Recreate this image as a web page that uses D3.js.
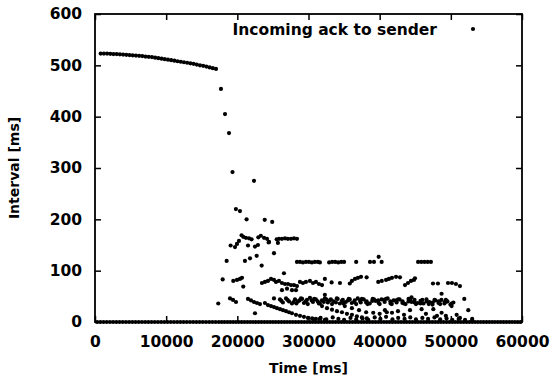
<!DOCTYPE html>
<meta charset="utf-8">
<html>
<head>
  <title>Incoming ack to sender</title>
  <style>
    body { margin: 0; background: #fff; }
    svg { display: block; }
    .tick text { font-family: "DejaVu Sans", sans-serif; font-weight: bold; font-size: 15.5px; fill: #000; }
    .label { font-family: "DejaVu Sans", sans-serif; font-weight: bold; font-size: 14px; fill: #000; }
  </style>
</head>
<body>
<svg id="chart" width="553" height="381"></svg>

<script src="https://d3js.org/d3.v7.min.js"></script>
<script>

const seriesName = "Incoming ack to sender";
const xTicks = [0, 10000, 20000, 30000, 40000, 50000, 60000];
const yTicks = [0, 100, 200, 300, 400, 500, 600];

// slow phase, one ack every ~0.5 s
const initialAcks = [
  [800,523],[1250,523],[1700,523],[2150,522.5],[2600,522],[3050,522],[3500,521.5],[3950,521],
  [4400,520.5],[4850,520],[5300,519.5],[5750,519],[6200,518.5],[6650,518],[7100,517],[7550,516.5],
  [8000,516],[8450,515],[8900,514],[9350,513],[9800,512],[10250,511],[10700,510],[11150,509],
  [11600,508],[12050,507],[12500,506],[12950,505],[13400,504],[13850,503],[14300,501.5],[14750,500],
  [15200,499],[15650,497.5],[16100,496],[16550,494.5],[17000,493]
];

// acks with ~0 interval
const zeroTimes = [
  300,750,1200,1650,2100,2550,3000,3450,3900,4350,4800,5250,5700,6150,6600,7050,7500,7950,8400,8850,
  9300,9750,10200,10650,11100,11550,12000,12450,12900,13350,13800,14250,14700,15150,15600,16050,16500,16950,
  17400,17800,18200,18600,19000,19400,19800,20200,20600,21000,21400,21800,22200,22600,23000,23400,23800,24200,
  24600,25000,25400,25800,26200,26600,27000,27400,27800,28200,28600,29000,29400,29800,30200,30600,31000,31400,
  31800,32200,32600,33000,33400,33800,34200,34600,35000,35400,35800,36200,36600,37000,37400,37800,38200,38600,
  39000,39400,39800,40200,40600,41000,41400,41800,42200,42600,43000,43400,43800,44200,44600,45000,45400,45800,
  46200,46600,47000,47400,47800,48200,48600,49000,49400,49800,50200,50600,51000,51400,51800,52200,52600,53000,
  53400,53800,54200,54600,55000,55400,55800,56200,56600,57000,57400,57800,58200,58600,59000,59400,59800
];

// burst after the slow phase
const burstAcks = [
  [17700,454],[18270,405],[18830,368],[19320,292],[22340,275],
  [19800,220],[20370,216],[21300,200],[23850,199],[24900,195],
  [20600,169],[20830,166],[21200,164],[21640,163],[22000,161],
  [22950,165],[23300,168],[23750,164],[24170,162],[24450,156],
  [25530,161],[25700,154],[25850,162],[26270,162],[26700,163],[27100,162],[27540,162],[27960,163],[28380,162],
  [19060,149],[19670,146],[19950,152],[20230,158],
  [21500,149],[22480,147],[22900,150],[24400,155],
  [25150,134],[18500,119],[21070,119],[21780,124],[22720,129],[23420,110],
  [17320,36],[18970,46],[19390,43],[19810,39],[21500,45],[21920,42],[22340,39],[22760,37],[23180,35],
  [22480,17],[25150,46]
];

const band117 = [
  [28380,117],[28800,117],[29220,116],[29640,117],[30060,117],[30480,116],[30900,117],[31320,117],[31600,116],
  [32900,116],[33330,117],[33750,117],[34170,116],[34600,117],[35000,117],
  [36700,117],[38640,117],[39200,117],[39860,127],[40280,117],
  [45400,117],[45850,117],[46300,117],[46750,117],[47200,117]
];

const band78 = [
  [17940,83],[19430,80],[19950,82],[20370,84],[20650,86],[20830,69],
  [23460,76],[23880,78],[24300,80],[24730,84],[25150,82],[25430,78],[25850,80],[26270,76],[26700,74],
  [27120,74],[27540,72],[27960,72],[28380,70],[28800,78],[29220,76],[29640,78],[30200,80],[30630,76],
  [31050,78],[31470,74],[31900,72],[32300,84],[33250,77],[34420,76],[35800,75],[36100,80],[36530,84],
  [36950,86],[37380,88],[38170,87],[39800,78],[40300,80],[40900,82],[41300,84],[41730,86],[42300,88],
  [42850,87],[43560,72],[43980,76],[44400,80],[44820,82],[44960,85],[47490,75],[48190,75],
  [49600,76],[50160,76],[50720,74],[51280,70],
  [26550,95],[26270,62],[26980,65],[27680,62],[28240,62]
];

const band40 = [
  [25990,44],[26400,38],[26840,46],[27260,40],[27680,36],[28100,44],[28520,40],[28940,46],[29360,37],
  [29780,43],[30200,47],[30620,39],[31040,44],[31460,36],[31880,42],[32300,46],[32720,38],[33140,44],
  [33560,40],[33980,46],[34400,36],[34820,43],[35240,39],[35660,45],[36080,37],[36500,42],[36920,46],
  [37340,38],[37760,44],[38180,40],[38600,36],[39020,45],[39440,41],[39860,37],[40280,44],[40700,39],
  [41120,46],[41540,36],[41960,42],[42380,38],[42800,44],[43220,40],[43640,35],[44060,45],[44480,39],
  [44900,43],[45320,37],[45740,41],[46160,36],[46580,44],[47000,39],[47420,34],[47840,42],[48260,37],
  [48680,43],[49100,36],[49520,40],[49940,34],[50360,38],
  [26200,41],[27050,43],[27900,39],[28750,42],[29600,40],[30450,42],[31300,40],[32150,39],[33000,42],
  [33850,38],[34700,41],[35550,42],[36400,39],[37250,41],[38100,38],[38950,41],[39800,42],[40650,43],
  [41500,40],[42350,42],[43200,37],[44050,40],[44900,38],[45750,36],[46600,40],[47450,38],[48300,40],
  [49150,39],
  [28300,36],[29100,45],[29900,35],[30800,45],[31600,36],[32500,44],[33300,35],[34100,45],[34900,36],
  [35800,44],[36700,35],[37500,45],[38300,35],[39200,44],[40000,35],[40900,45],[41700,35],[42600,44],
  [43400,36],[44300,43],[45100,35],[46000,43],[46900,35],[47700,43],[48500,35],[49300,43],[50100,36],
  [32300,53],[44470,48],[48700,55],[49400,40],[51890,45]
];

const lowBand = [
  [23880,37],[24300,33],[24730,31],[25150,29],[25570,27],[26000,25],[26410,23],[26840,21],[27260,19],
  [27680,17],[28240,14],[28800,12],[29360,10],[29920,8],[30500,7],[31050,6],[31600,6],[32300,4],
  [31900,31],[32600,27],[33300,24],[34000,21],[34700,19],[35400,16],[36100,14],[36800,11],[37500,9],[38200,7],
  [35100,31],[36100,27],[37100,23],[38100,19],[39100,18],[40000,16],[41000,19],
  [40740,23],[41730,18],[42570,21],[43420,14],[44260,23],[45890,25],[46500,16],[47540,25],[48050,12],
  [48700,18],[49300,12],[50110,31],[50820,14],[51280,8],[52450,23],[53000,6],
  [30800,5],[31700,8],[32500,5],[33400,9],[34200,6],[35000,4],[35900,8],[36700,5],[37600,7],[38400,4],
  [39300,9],[40100,6],[40900,10],[41800,5],[42600,8],[43500,6],[44300,9],[45100,5],[46000,8],[46800,6],
  [47700,9],[48500,5],[49400,7],[50200,4],[51100,6],[52000,4],[53000,3]
];

const svg = d3.select("#chart");
const margin = {left: 95, right: 31, top: 14, bottom: 59};
const W = 553, H = 381;

const x = d3.scaleLinear().domain([0, 60000]).range([margin.left, W - margin.right]);
const y = d3.scaleLinear().domain([0, 600]).range([H - margin.bottom, margin.top]);

// axes with inward ticks, mirrored on top and right
svg.append("g")
  .attr("transform", `translate(0,${y(0)})`)
  .call(d3.axisBottom(x).tickValues(xTicks).tickSize(-6).tickPadding(14).tickFormat(d3.format("d")));
svg.append("g")
  .attr("transform", `translate(${x(0)},0)`)
  .call(d3.axisLeft(y).tickValues(yTicks).tickSize(-6).tickPadding(13).tickFormat(d3.format("d")));
svg.append("g")
  .attr("transform", `translate(0,${y(600)})`)
  .call(d3.axisTop(x).tickValues(xTicks).tickSize(-6).tickFormat(""));
svg.append("g")
  .attr("transform", `translate(${x(60000)},0)`)
  .call(d3.axisRight(y).tickValues(yTicks).tickSize(-6).tickFormat(""));

svg.selectAll(".domain").remove();
svg.selectAll(".tick line").attr("stroke", "#000").attr("stroke-width", 1.5);

svg.append("rect")
  .attr("x", x(0)).attr("y", y(600))
  .attr("width", x(60000) - x(0)).attr("height", y(0) - y(600))
  .attr("fill", "none").attr("stroke", "#000").attr("stroke-width", 1.8);

// axis titles
svg.append("text").attr("class", "label")
  .attr("x", (x(0) + x(60000)) / 2).attr("y", 373)
  .attr("text-anchor", "middle").text("Time [ms]");
svg.append("text").attr("class", "label")
  .attr("transform", `translate(19,${(y(0) + y(600)) / 2}) rotate(-90)`)
  .attr("text-anchor", "middle").text("Interval [ms]");

// points
const allPoints = initialAcks
  .concat(zeroTimes.map(t => [t, 0]))
  .concat(burstAcks, band117, band78, band40, lowBand);

svg.append("g")
  .selectAll("circle")
  .data(allPoints)
  .join("circle")
  .attr("cx", d => x(d[0]))
  .attr("cy", d => y(d[1]))
  .attr("r", 2.1)
  .attr("fill", "#000");

// legend
svg.append("text").attr("class", "label")
  .attr("x", 437).attr("y", 35)
  .attr("text-anchor", "end")
  .style("font-size", "15.5px")
  .text(seriesName);
svg.append("circle")
  .attr("cx", 473).attr("cy", 29).attr("r", 2.1).attr("fill", "#000");

</script>
</body>
</html>
